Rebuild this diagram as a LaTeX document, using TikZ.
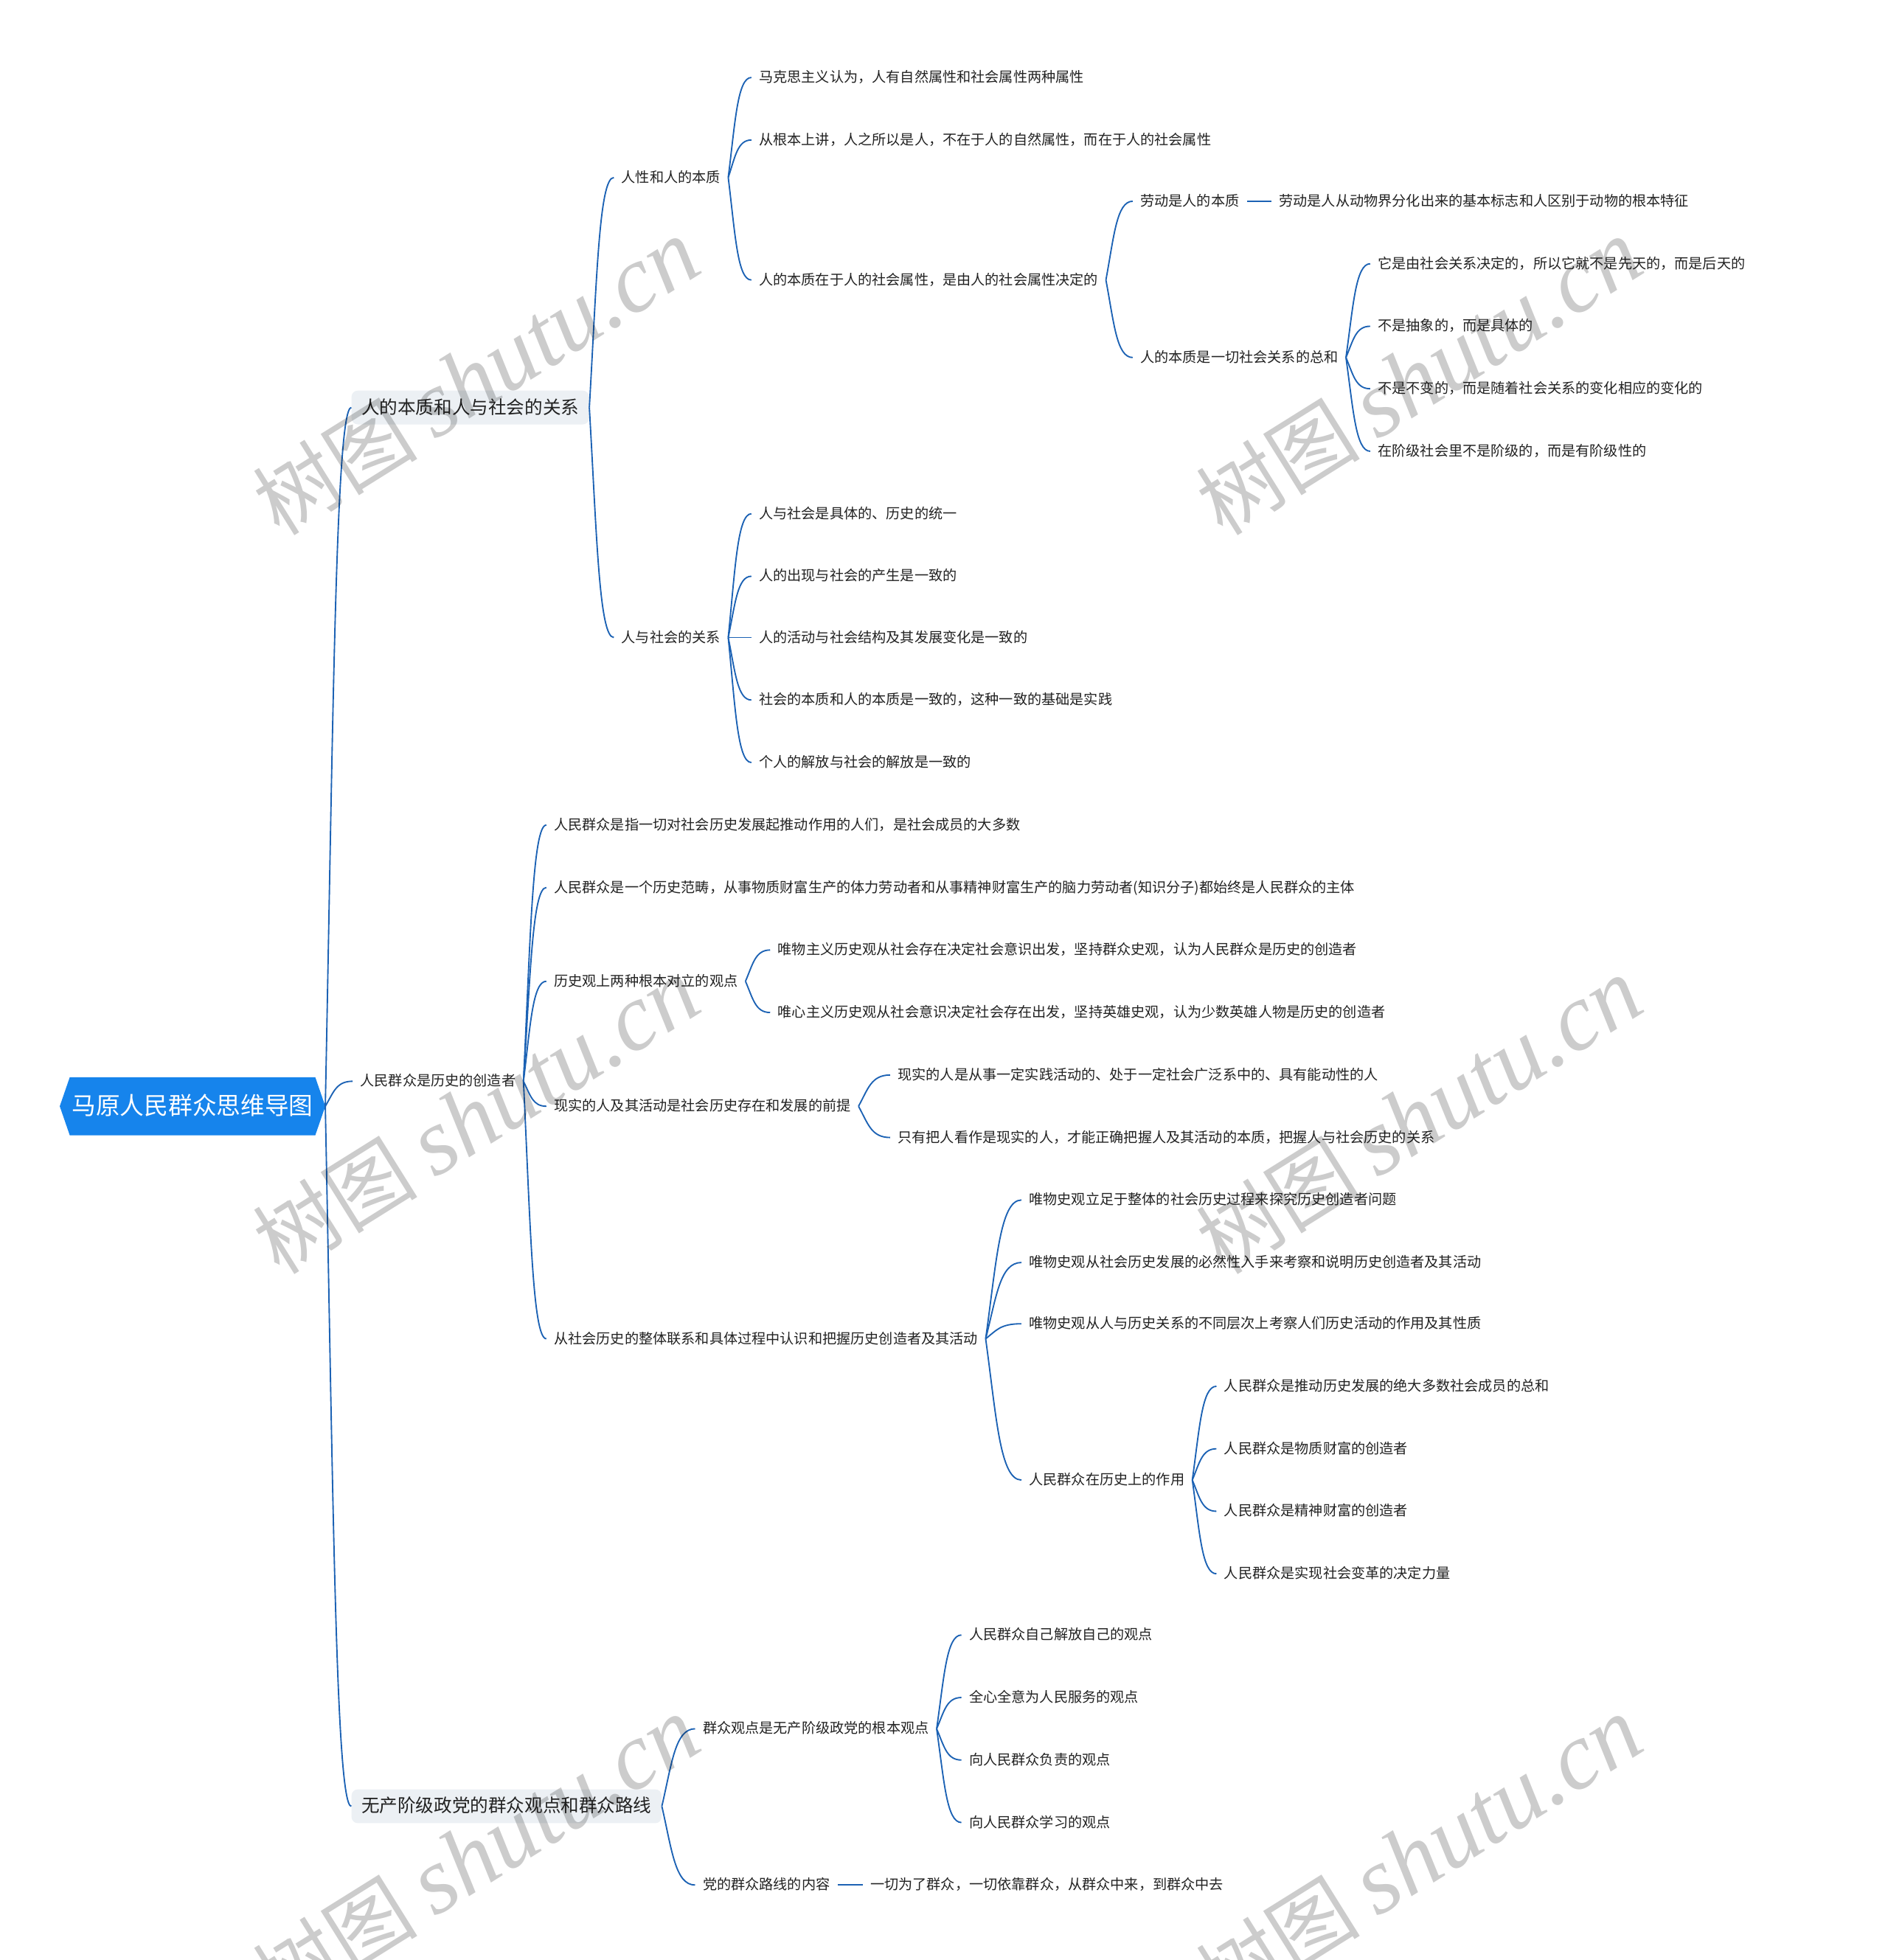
\documentclass[tikz,border=0pt]{standalone}
\usepackage{fontspec}
\newfontfamily\cjk{Noto Sans CJK SC}
\newfontfamily\wmlat{Liberation Serif}
\usetikzlibrary{calc,backgrounds}
\definecolor{rootblue}{RGB}{22,132,236}
\definecolor{linkblue}{RGB}{28,98,180}
\definecolor{boxgray}{RGB}{236,240,244}
\definecolor{txt}{RGB}{34,34,34}
\tikzset{
  tnode/.style={font=\cjk\fontsize{11.3}{13}\selectfont, text=txt, anchor=west,
    inner xsep=6pt, inner ysep=2pt, text height=9.5pt, text depth=1.8pt},
  lvbox/.style={font=\cjk\fontsize{14.5}{17}\selectfont, text=txt, anchor=west,
    fill=boxgray, rounded corners=5pt, inner xsep=8pt, minimum height=27pt,
    text height=12.2pt, text depth=2.3pt},
  rootnode/.style={font=\cjk\fontsize{19.3}{22}\selectfont, text=white,
    minimum width=196pt, minimum height=46pt, inner sep=0pt,
    text height=16.2pt, text depth=3.1pt},
  conn/.style={draw=linkblue, line width=1.1pt},
  wm/.style={text=black, text opacity=0.2, rotate=32, inner sep=0pt}
}
\newcommand\lnk[2]{\draw[conn] let \p1=(#1), \p2=(#2.west) in (\p1) .. controls ({\x1+0.3*(\x2-\x1)},{\y1+0.55*(\y2-\y1)}) and ({\x1+0.4*(\x2-\x1)},{\y2}) .. (\p2);}
\newcommand\wmtext{{\cjk\fontsize{66}{66}\selectfont 树图}\hspace{14pt}{\wmlat\itshape\fontsize{76}{76}\selectfont shutu.cn}}
\begin{document}
\begin{tikzpicture}[x=1pt,y=-1pt]
\useasboundingbox (0,0) rectangle (1510,1568);

% root
\node[rootnode] (root) at (154,885) {马原人民群众思维导图};
\coordinate (rootR) at ($(root.east)+(8,0)$);
\coordinate (rootL) at ($(root.west)+(-8,0)$);
\begin{scope}[on background layer]
\fill[white] (0,0) rectangle (1510,1568);
\fill[rootblue] (root.north west) -- (root.north east) -- (rootR) -- (root.south east) -- (root.south west) -- (rootL) -- cycle;
\end{scope}

% level 1
\node[lvbox] (A) at (281,326) {人的本质和人与社会的关系};
\node[tnode] (B) at (282,865) {人民群众是历史的创造者};
\node[lvbox] (C) at (281,1445) {无产阶级政党的群众观点和群众路线};

% branch A
\node[tnode] (A1) at (491,142) {人性和人的本质};
\node[tnode] (A2) at (491,510) {人与社会的关系};
\node[tnode] (A11) at (601,62) {马克思主义认为，人有自然属性和社会属性两种属性};
\node[tnode] (A12) at (601,112) {从根本上讲，人之所以是人，不在于人的自然属性，而在于人的社会属性};
\node[tnode] (A13) at (601,224) {人的本质在于人的社会属性，是由人的社会属性决定的};
\node[tnode] (A131) at (906,161) {劳动是人的本质};
\node[tnode] (A1311) at (1017,161) {劳动是人从动物界分化出来的基本标志和人区别于动物的根本特征};
\node[tnode] (A132) at (906,286) {人的本质是一切社会关系的总和};
\node[tnode] (A1321) at (1096,211) {它是由社会关系决定的，所以它就不是先天的，而是后天的};
\node[tnode] (A1322) at (1096,261) {不是抽象的，而是具体的};
\node[tnode] (A1323) at (1096,311) {不是不变的，而是随着社会关系的变化相应的变化的};
\node[tnode] (A1324) at (1096,361) {在阶级社会里不是阶级的，而是有阶级性的};
\node[tnode] (A21) at (601,411) {人与社会是具体的、历史的统一};
\node[tnode] (A22) at (601,461) {人的出现与社会的产生是一致的};
\node[tnode] (A23) at (601,510) {人的活动与社会结构及其发展变化是一致的};
\node[tnode] (A24) at (601,560) {社会的本质和人的本质是一致的，这种一致的基础是实践};
\node[tnode] (A25) at (601,610) {个人的解放与社会的解放是一致的};

% branch B
\node[tnode] (B1) at (437,660) {人民群众是指一切对社会历史发展起推动作用的人们，是社会成员的大多数};
\node[tnode] (B2) at (437,710) {人民群众是一个历史范畴，从事物质财富生产的体力劳动者和从事精神财富生产的脑力劳动者(知识分子)都始终是人民群众的主体};
\node[tnode] (B3) at (437,785) {历史观上两种根本对立的观点};
\node[tnode] (B4) at (437,885) {现实的人及其活动是社会历史存在和发展的前提};
\node[tnode] (B5) at (437,1071) {从社会历史的整体联系和具体过程中认识和把握历史创造者及其活动};
\node[tnode] (B31) at (616,760) {唯物主义历史观从社会存在决定社会意识出发，坚持群众史观，认为人民群众是历史的创造者};
\node[tnode] (B32) at (616,810) {唯心主义历史观从社会意识决定社会存在出发，坚持英雄史观，认为少数英雄人物是历史的创造者};
\node[tnode] (B41) at (712,860) {现实的人是从事一定实践活动的、处于一定社会广泛系中的、具有能动性的人};
\node[tnode] (B42) at (712,910) {只有把人看作是现实的人，才能正确把握人及其活动的本质，把握人与社会历史的关系};
\node[tnode] (B51) at (817,960) {唯物史观立足于整体的社会历史过程来探究历史创造者问题};
\node[tnode] (B52) at (817,1010) {唯物史观从社会历史发展的必然性入手来考察和说明历史创造者及其活动};
\node[tnode] (B53) at (817,1059) {唯物史观从人与历史关系的不同层次上考察人们历史活动的作用及其性质};
\node[tnode] (B54) at (817,1184) {人民群众在历史上的作用};
\node[tnode] (B541) at (973,1109) {人民群众是推动历史发展的绝大多数社会成员的总和};
\node[tnode] (B542) at (973,1159) {人民群众是物质财富的创造者};
\node[tnode] (B543) at (973,1209) {人民群众是精神财富的创造者};
\node[tnode] (B544) at (973,1259) {人民群众是实现社会变革的决定力量};

% branch C
\node[tnode] (C1) at (556,1383) {群众观点是无产阶级政党的根本观点};
\node[tnode] (C2) at (556,1508) {党的群众路线的内容};
\node[tnode] (C11) at (769,1308) {人民群众自己解放自己的观点};
\node[tnode] (C12) at (769,1358) {全心全意为人民服务的观点};
\node[tnode] (C13) at (769,1408) {向人民群众负责的观点};
\node[tnode] (C14) at (769,1458) {向人民群众学习的观点};
\node[tnode] (C21) at (690,1508) {一切为了群众，一切依靠群众，从群众中来，到群众中去};

% connectors
\foreach \s/\t in {rootR/A, rootR/B, rootR/C,
  A.east/A1, A.east/A2,
  A1.east/A11, A1.east/A12, A1.east/A13,
  A13.east/A131, A13.east/A132, A131.east/A1311,
  A132.east/A1321, A132.east/A1322, A132.east/A1323, A132.east/A1324,
  A2.east/A21, A2.east/A22, A2.east/A23, A2.east/A24, A2.east/A25,
  B.east/B1, B.east/B2, B.east/B3, B.east/B4, B.east/B5,
  B3.east/B31, B3.east/B32, B4.east/B41, B4.east/B42,
  B5.east/B51, B5.east/B52, B5.east/B53, B5.east/B54,
  B54.east/B541, B54.east/B542, B54.east/B543, B54.east/B544,
  C.east/C1, C.east/C2,
  C1.east/C11, C1.east/C12, C1.east/C13, C1.east/C14,
  C2.east/C21}
  {\lnk{\s}{\t}}

% watermarks
\node[wm] (w1) at (381,302) {\wmtext};
\node[wm] (w2) at (1135,302) {\wmtext};
\node[wm] (w3) at (381,893) {\wmtext};
\node[wm] (w4) at (1135,893) {\wmtext};
\node[wm] (w5) at (381,1484) {\wmtext};
\node[wm] (w6) at (1135,1484) {\wmtext};
\end{tikzpicture}
\end{document}
